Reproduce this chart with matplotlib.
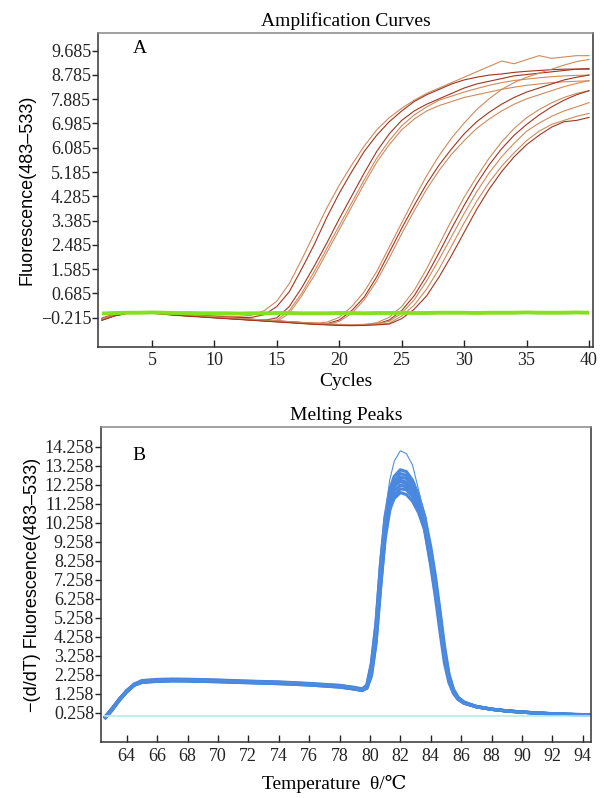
import matplotlib
matplotlib.use("Agg")
import matplotlib.pyplot as plt

# ---------------- Panel A data: amplification curves ----------------
cycles = list(range(1, 41))

amp_1a = [-0.22, -0.08, -0.02, 0.00, -0.01, -0.04, -0.07, -0.10, -0.12, -0.14, -0.16, -0.17, -0.12, 0.05, 0.40, 1.05, 1.95, 2.90, 3.85, 4.70, 5.45, 6.15, 6.75, 7.20, 7.55, 7.85, 8.10, 8.30, 8.50, 8.70, 8.90, 9.10, 9.30, 9.20, 9.35, 9.50, 9.40, 9.45, 9.50, 9.50]
amp_1b = [-0.28, -0.12, -0.03, -0.01, -0.03, -0.06, -0.09, -0.12, -0.15, -0.17, -0.19, -0.21, -0.20, -0.10, 0.20, 0.75, 1.60, 2.50, 3.50, 4.40, 5.20, 5.95, 6.55, 7.05, 7.45, 7.80, 8.05, 8.25, 8.45, 8.60, 8.70, 8.78, 8.82, 8.88, 8.92, 8.95, 8.98, 9.00, 9.00, 9.02]
amp_2a = [-0.25, -0.10, -0.03, 0.00, -0.03, -0.06, -0.10, -0.13, -0.16, -0.19, -0.22, -0.25, -0.28, -0.31, -0.22, 0.20, 0.90, 1.70, 2.55, 3.45, 4.30, 5.15, 5.95, 6.60, 7.10, 7.45, 7.70, 7.90, 8.10, 8.30, 8.45, 8.55, 8.65, 8.75, 8.80, 8.85, 8.90, 8.95, 9.00, 9.00]
amp_2b = [-0.30, -0.14, -0.05, -0.02, -0.04, -0.08, -0.11, -0.14, -0.17, -0.20, -0.23, -0.26, -0.29, -0.32, -0.30, 0.05, 0.70, 1.50, 2.35, 3.20, 4.05, 4.90, 5.70, 6.35, 6.90, 7.30, 7.60, 7.85, 8.00, 8.15, 8.28, 8.40, 8.50, 8.58, 8.63, 8.68, 8.72, 8.75, 8.77, 8.78]
amp_2c = [-0.26, -0.11, -0.04, -0.01, -0.03, -0.07, -0.11, -0.14, -0.17, -0.21, -0.24, -0.27, -0.30, -0.33, -0.36, -0.05, 0.60, 1.35, 2.20, 3.05, 3.90, 4.75, 5.55, 6.20, 6.75, 7.15, 7.45, 7.65, 7.80, 7.95, 8.05, 8.15, 8.25, 8.33, 8.40, 8.45, 8.50, 8.53, 8.55, 8.57]
amp_3a = [-0.27, -0.12, -0.04, -0.01, -0.03, -0.07, -0.10, -0.13, -0.16, -0.19, -0.22, -0.25, -0.28, -0.31, -0.34, -0.37, -0.40, -0.42, -0.38, -0.20, 0.20, 0.75, 1.50, 2.40, 3.30, 4.20, 5.05, 5.80, 6.45, 7.00, 7.50, 7.90, 8.25, 8.50, 8.70, 8.85, 9.00, 9.15, 9.28, 9.36]
amp_3b = [-0.24, -0.09, -0.02, 0.00, -0.02, -0.05, -0.09, -0.12, -0.15, -0.18, -0.21, -0.24, -0.27, -0.30, -0.33, -0.36, -0.39, -0.42, -0.44, -0.30, 0.05, 0.55, 1.30, 2.20, 3.10, 3.95, 4.75, 5.45, 6.05, 6.60, 7.05, 7.40, 7.70, 7.95, 8.15, 8.30, 8.45, 8.60, 8.70, 8.78]
amp_3c = [-0.29, -0.13, -0.05, -0.02, -0.04, -0.08, -0.12, -0.15, -0.18, -0.21, -0.24, -0.27, -0.30, -0.33, -0.36, -0.39, -0.42, -0.45, -0.46, -0.35, -0.05, 0.45, 1.15, 2.00, 2.90, 3.75, 4.55, 5.25, 5.85, 6.35, 6.80, 7.15, 7.45, 7.70, 7.90, 8.05, 8.20, 8.35, 8.47, 8.57]
amp_4a = [-0.26, -0.11, -0.03, 0.00, -0.02, -0.06, -0.10, -0.13, -0.16, -0.19, -0.22, -0.25, -0.28, -0.31, -0.34, -0.37, -0.40, -0.43, -0.45, -0.47, -0.48, -0.47, -0.40, -0.20, 0.20, 0.80, 1.60, 2.50, 3.40, 4.25, 5.00, 5.70, 6.30, 6.80, 7.20, 7.50, 7.75, 7.95, 8.10, 8.20]
amp_4b = [-0.30, -0.14, -0.05, -0.02, -0.04, -0.08, -0.12, -0.15, -0.18, -0.21, -0.24, -0.27, -0.30, -0.33, -0.36, -0.39, -0.42, -0.45, -0.47, -0.49, -0.50, -0.49, -0.45, -0.30, 0.05, 0.60, 1.35, 2.20, 3.10, 3.95, 4.75, 5.45, 6.05, 6.55, 6.95, 7.30, 7.60, 7.85, 8.05, 8.20]
amp_4c = [-0.25, -0.10, -0.03, 0.00, -0.02, -0.05, -0.09, -0.12, -0.15, -0.18, -0.21, -0.24, -0.27, -0.30, -0.33, -0.36, -0.39, -0.42, -0.44, -0.46, -0.47, -0.46, -0.44, -0.35, -0.05, 0.45, 1.15, 1.95, 2.80, 3.65, 4.45, 5.15, 5.75, 6.25, 6.70, 7.00, 7.25, 7.45, 7.60, 7.76]
amp_4d = [-0.28, -0.12, -0.04, -0.01, -0.03, -0.07, -0.11, -0.14, -0.17, -0.20, -0.23, -0.26, -0.29, -0.32, -0.35, -0.38, -0.41, -0.44, -0.46, -0.48, -0.49, -0.48, -0.46, -0.42, -0.15, 0.25, 0.85, 1.60, 2.45, 3.30, 4.10, 4.80, 5.40, 5.90, 6.35, 6.70, 6.95, 7.10, 7.25, 7.36]
amp_4e = [-0.31, -0.15, -0.06, -0.03, -0.05, -0.09, -0.13, -0.16, -0.19, -0.22, -0.25, -0.28, -0.31, -0.34, -0.37, -0.40, -0.43, -0.46, -0.48, -0.50, -0.51, -0.50, -0.48, -0.45, -0.25, 0.10, 0.60, 1.30, 2.10, 2.95, 3.80, 4.55, 5.20, 5.75, 6.20, 6.55, 6.85, 7.05, 7.10, 7.21]
amp_ntc = [-0.06, -0.04, -0.03, -0.03, -0.02, -0.03, -0.04, -0.04, -0.05, -0.05, -0.05, -0.06, -0.05, -0.05, -0.04, -0.04, -0.05, -0.05, -0.05, -0.04, -0.04, -0.05, -0.04, -0.04, -0.03, -0.04, -0.04, -0.03, -0.03, -0.03, -0.04, -0.03, -0.03, -0.03, -0.02, -0.03, -0.03, -0.03, -0.02, -0.03]

amp_yticks = [-0.215, 0.685, 1.585, 2.485, 3.385, 4.285, 5.185, 6.085, 6.985, 7.885, 8.785, 9.685]
amp_xticks = [5, 10, 15, 20, 25, 30, 35, 40]

# ---------------- Panel B data: melting peaks ----------------
temps = [62.6, 63.0, 63.5, 64.0, 64.5, 65.0, 66.0, 67.0, 68.0, 70.0, 72.0, 74.0, 76.0, 78.0, 79.0, 79.5, 79.8, 80.1, 80.4, 80.7, 81.0, 81.3, 81.6, 82.0, 82.4, 82.8, 83.2, 83.6, 84.0, 84.3, 84.6, 84.9, 85.2, 85.5, 85.8, 86.2, 87.0, 88.0, 89.0, 90.0, 91.0, 92.0, 93.0, 94.5]

melt_1 = [0.02, 0.40, 0.92, 1.38, 1.74, 1.92, 1.98, 2.00, 2.00, 1.96, 1.90, 1.86, 1.78, 1.68, 1.57, 1.48, 1.64, 2.55, 4.6, 7.9, 10.7, 12.5, 13.5, 14.05, 13.9, 13.3, 12.0, 10.6, 8.6, 6.9, 5.0, 3.2, 1.95, 1.32, 0.98, 0.77, 0.57, 0.44, 0.35, 0.29, 0.24, 0.20, 0.17, 0.14]
melt_2 = [0.06, 0.45, 0.98, 1.44, 1.78, 1.96, 2.02, 2.04, 2.03, 1.99, 1.93, 1.89, 1.81, 1.71, 1.60, 1.52, 1.72, 2.8, 4.9, 8.1, 10.6, 12.0, 12.7, 13.05, 12.95, 12.5, 11.7, 10.6, 8.7, 7.1, 5.3, 3.4, 2.1, 1.4, 1.03, 0.80, 0.60, 0.46, 0.37, 0.31, 0.26, 0.22, 0.19, 0.16]
melt_3 = [0.00, 0.36, 0.90, 1.36, 1.72, 1.86, 1.92, 1.94, 1.94, 1.90, 1.85, 1.80, 1.73, 1.62, 1.51, 1.43, 1.58, 2.45, 4.3, 7.3, 10.0, 11.6, 12.4, 12.85, 12.75, 12.3, 11.6, 10.5, 8.6, 7.0, 5.2, 3.35, 2.05, 1.38, 1.01, 0.79, 0.59, 0.45, 0.36, 0.30, 0.25, 0.21, 0.18, 0.15]
melt_4 = [0.04, 0.40, 0.93, 1.39, 1.73, 1.89, 1.96, 1.98, 1.98, 1.94, 1.89, 1.85, 1.77, 1.67, 1.56, 1.47, 1.56, 2.2, 3.9, 6.8, 9.6, 11.3, 12.2, 12.65, 12.6, 12.25, 11.6, 10.6, 9.0, 7.5, 5.7, 3.8, 2.3, 1.5, 1.08, 0.83, 0.60, 0.46, 0.37, 0.31, 0.26, 0.22, 0.19, 0.16]
melt_5 = [0.04, 0.42, 0.95, 1.40, 1.75, 1.90, 1.95, 1.97, 1.97, 1.93, 1.88, 1.84, 1.76, 1.66, 1.55, 1.47, 1.65, 2.6, 4.5, 7.6, 10.2, 11.6, 12.2, 12.5, 12.4, 12.0, 11.3, 10.3, 8.4, 6.8, 5.0, 3.2, 2.0, 1.35, 1.0, 0.78, 0.58, 0.45, 0.36, 0.30, 0.25, 0.21, 0.18, 0.15]
melt_6 = [0.08, 0.46, 0.97, 1.42, 1.76, 1.93, 1.99, 2.01, 2.01, 1.97, 1.92, 1.87, 1.79, 1.69, 1.58, 1.50, 1.72, 2.9, 5.0, 8.1, 10.5, 11.7, 12.2, 12.45, 12.3, 11.8, 11.0, 9.9, 8.0, 6.4, 4.6, 2.9, 1.85, 1.28, 0.96, 0.76, 0.58, 0.45, 0.36, 0.30, 0.25, 0.21, 0.18, 0.15]
melt_7 = [0.03, 0.38, 0.91, 1.37, 1.72, 1.87, 1.93, 1.95, 1.94, 1.90, 1.85, 1.80, 1.73, 1.62, 1.51, 1.44, 1.62, 2.5, 4.4, 7.4, 9.9, 11.3, 11.95, 12.25, 12.15, 11.75, 11.1, 10.1, 8.3, 6.8, 5.0, 3.25, 2.0, 1.36, 1.0, 0.78, 0.58, 0.45, 0.36, 0.30, 0.25, 0.21, 0.18, 0.15]
melt_8 = [0.05, 0.42, 0.95, 1.40, 1.75, 1.90, 1.96, 1.98, 1.97, 1.93, 1.88, 1.83, 1.76, 1.65, 1.54, 1.46, 1.57, 2.3, 4.0, 6.9, 9.4, 10.9, 11.7, 12.05, 12.0, 11.65, 11.0, 10.1, 8.5, 7.1, 5.4, 3.6, 2.2, 1.45, 1.05, 0.80, 0.59, 0.45, 0.36, 0.30, 0.25, 0.21, 0.18, 0.15]
melt_9 = [0.01, 0.39, 0.93, 1.39, 1.74, 1.89, 1.95, 1.97, 1.96, 1.92, 1.87, 1.83, 1.75, 1.65, 1.54, 1.46, 1.63, 2.55, 4.5, 7.5, 9.8, 11.0, 11.55, 11.85, 11.75, 11.4, 10.8, 9.9, 8.2, 6.75, 5.0, 3.2, 1.98, 1.35, 1.0, 0.78, 0.58, 0.45, 0.36, 0.30, 0.25, 0.21, 0.18, 0.15]
melt_ntc_t = [62.6, 94.5]
melt_ntc = [0.10, 0.10]

melt_yticks = [0.258, 1.258, 2.258, 3.258, 4.258, 5.258, 6.258, 7.258, 8.258, 9.258, 10.258, 11.258, 12.258, 13.258, 14.258]
melt_xticks = [64, 66, 68, 70, 72, 74, 76, 78, 80, 82, 84, 86, 88, 90, 92, 94]

# ---------------- styling ----------------
SERIF = ['Liberation Serif', 'DejaVu Serif']
SANS = ['Liberation Sans', 'DejaVu Sans']
plt.rcParams['font.family'] = SERIF

fig = plt.figure(figsize=(6.10, 7.98), dpi=100)
axA = fig.add_axes([0.161, 0.5655, 0.8116, 0.3935])
axB = fig.add_axes([0.1656, 0.0702, 0.8034, 0.3947])

light = '#cf8a5c'
dark = '#a0351f'
amp_curves = [(amp_1a, light), (amp_1b, dark), (amp_2a, dark), (amp_2b, light), (amp_2c, light),
              (amp_3a, light), (amp_3b, dark), (amp_3c, light), (amp_4a, light), (amp_4b, dark),
              (amp_4c, light), (amp_4d, light), (amp_4e, dark)]
for ys, c in amp_curves:
    axA.plot(cycles, ys, color=c, lw=0.8, solid_joinstyle='round')
axA.plot(cycles, amp_ntc, color='#84e020', lw=2.8, solid_capstyle='butt')

axA.set_xlim(0.7, 40.34)
axA.set_ylim(-1.29, 10.35)
axA.set_xticks(amp_xticks)
axA.set_yticks(amp_yticks)
axA.set_yticklabels([f"{v:.3f}".replace('-', '\u2212') for v in amp_yticks])
axA.set_title('Amplification Curves', fontsize=14, pad=5)
axA.set_xlabel('Cycles', fontsize=14, labelpad=3)
axA.set_ylabel('Fluorescence(483\u2013533)', fontsize=13, family=SANS, labelpad=4)
axA.text(0.084, 0.951, 'A', transform=axA.transAxes, fontsize=14, ha='center', va='center')

mcolor = '#4a87de'
for ys in [melt_9, melt_8, melt_7, melt_6, melt_5, melt_4, melt_3, melt_2]:
    axB.plot(temps, ys, color=mcolor, lw=2.3, solid_joinstyle='round')
axB.plot(temps, melt_1, color='#4f8fe0', lw=0.8)
axB.plot(melt_ntc_t, melt_ntc, color='#b5ece6', lw=1.2)

axB.set_xlim(62.31, 94.55)
axB.set_ylim(-1.27, 15.30)
axB.set_xticks(melt_xticks)
axB.set_yticks(melt_yticks)
axB.set_yticklabels([f"{v:.3f}" for v in melt_yticks])
axB.set_title('Melting Peaks', fontsize=14, pad=5)
axB.set_xlabel('Temperature  \u03b8/\u2103', fontsize=14)
axB.xaxis.set_label_coords(0.475, -0.105)
axB.set_ylabel('\u2212(d/dT) Fluorescence(483\u2013533)', fontsize=13, family=SANS, labelpad=3)
axB.text(0.0765, 0.911, 'B', transform=axB.transAxes, fontsize=14, ha='center', va='center')

for ax in (axA, axB):
    for s in ax.spines.values():
        s.set_color('#333333')
        s.set_linewidth(1.1)
    ax.spines['top'].set_color('#888888')
    ax.tick_params(axis='x', direction='in', length=5, width=1.0, pad=4, labelsize=13, colors='#222222')
    ax.tick_params(axis='y', direction='out', length=4, width=1.0, pad=1, labelsize=13, colors='#222222')

fig.savefig('out.png', dpi=100, facecolor='white')
